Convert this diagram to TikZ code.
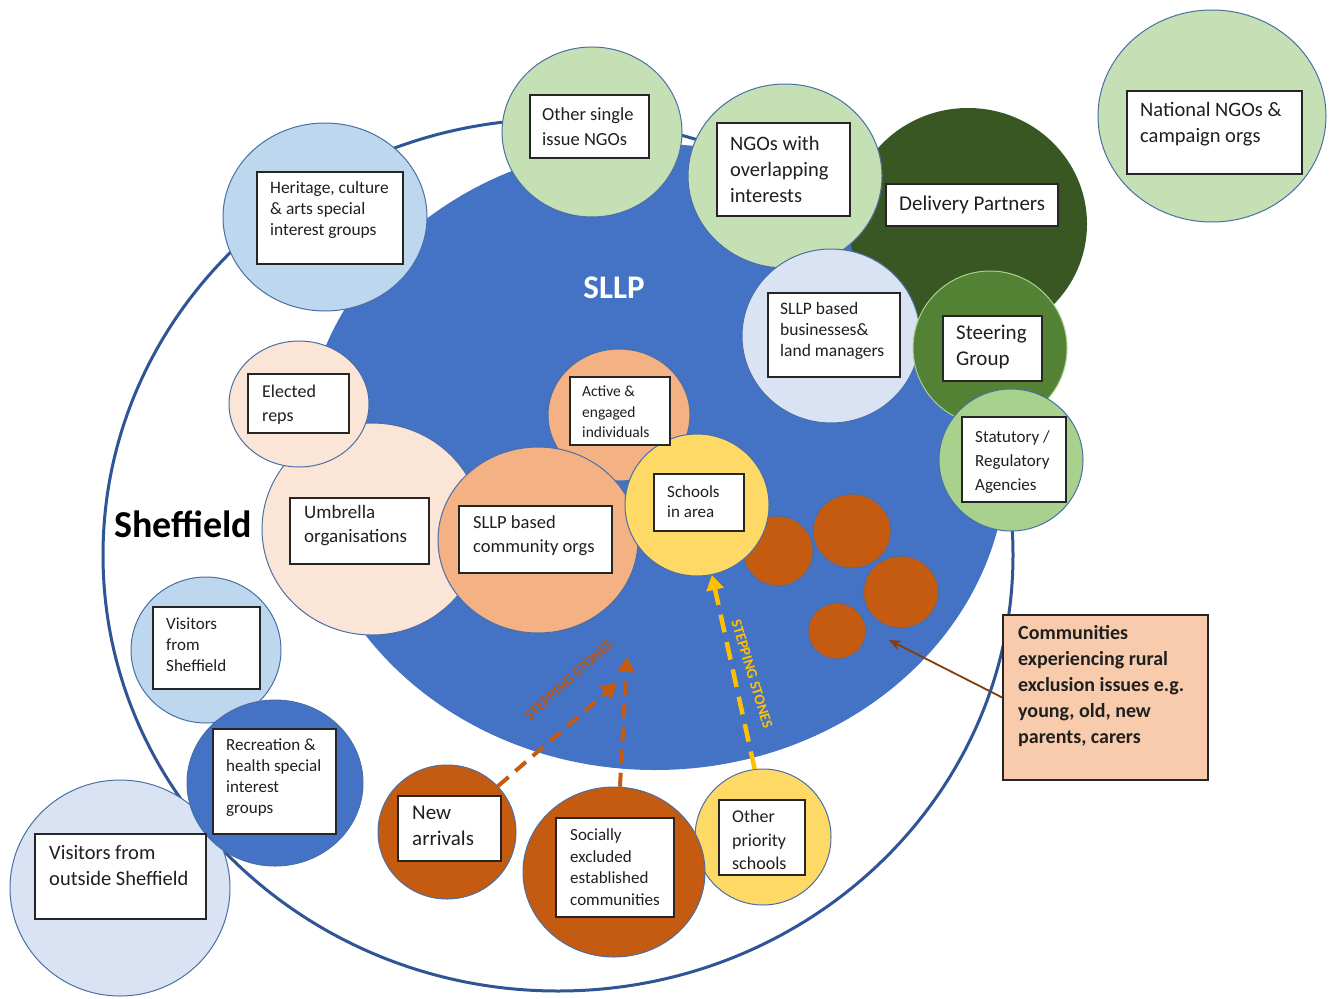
\documentclass[tikz,border=0pt]{standalone}
\usepackage{fontspec}
\setmainfont{Carlito}
\usetikzlibrary{shapes.geometric,arrows.meta,fit}
\definecolor{sllpblue}{HTML}{4472C4}
\definecolor{outerblue}{HTML}{2F5597}
\definecolor{cline}{HTML}{4A6FA5}
\definecolor{ltblue}{HTML}{BDD7EE}
\definecolor{paleblue}{HTML}{DAE3F3}
\definecolor{ltgreen}{HTML}{C5E0B4}
\definecolor{dkgreen}{HTML}{385723}
\definecolor{mdgreen}{HTML}{548235}
\definecolor{sgreen}{HTML}{A9D18E}
\definecolor{palepeach}{HTML}{FBE5D6}
\definecolor{peach}{HTML}{F4B183}
\definecolor{yell}{HTML}{FFD966}
\definecolor{orng}{HTML}{C55A11}
\definecolor{stonetxt}{HTML}{B4561C}
\definecolor{commfill}{HTML}{F8CBAD}
\definecolor{yarr}{HTML}{FFC000}
\definecolor{brarr}{HTML}{843C0C}
\definecolor{boxline}{HTML}{262626}
\definecolor{txtcol}{HTML}{1F1F1F}
\newcommand\fsz[2]{\fontsize{#1}{#2}\selectfont}
\begin{document}
\begin{tikzpicture}[x=1pt,y=-1pt,
  circ/.style={ellipse, draw=cline, line width=1pt, inner sep=0pt},
  boxs/.style={draw=boxline, line width=1.6pt, fill=white, inner sep=0pt},
  txt/.style={anchor=west, align=left, inner sep=0pt, text=txtcol},
  oarrow/.style={draw=orng, line width=4pt, dash pattern=on 14pt off 9pt, -{Triangle[length=15pt,width=17pt]}},
  yarrow/.style={draw=yarr, line width=4.5pt, dash pattern=on 18pt off 10pt, -{Triangle[length=15pt,width=17pt]}},
  brarrow/.style={draw=brarr, line width=1.8pt, -{Stealth[length=12pt,width=10pt]}},
  stones/.style={font=\fsz{15}{18}\bfseries, inner sep=0pt}
]
\path[use as bounding box, fill=white] (0,0) rectangle (1332,998);

% outer Sheffield ring
\node[ellipse, draw=outerblue, line width=3pt, inner sep=0pt, minimum width=910pt, minimum height=872pt] (sheff) at (558,555) {};
% SLLP area
\node[ellipse, fill=sllpblue, inner sep=0pt, minimum width=704pt, minimum height=626pt] (sllp) at (655,457) {};

% circles
\node[ellipse, fill=dkgreen, inner sep=0pt, minimum width=238pt, minimum height=232pt] (deliv) at (968,224) {};
\node[circ, fill=ltblue, minimum width=204pt, minimum height=188pt] (herit) at (325,217) {};
\node[circ, fill=ltgreen, minimum width=180pt, minimum height=170pt] (othngo) at (592,132) {};
\node[circ, fill=ltgreen, minimum width=194pt, minimum height=184pt] (ngoov) at (785,176) {};
\node[circ, fill=paleblue, minimum width=178pt, minimum height=174pt] (busi) at (831,336) {};
\node[circ, draw=sgreen, fill=mdgreen, minimum width=154pt, minimum height=154pt] (steer) at (990,348) {};
\node[circ, fill=sgreen, minimum width=144pt, minimum height=142pt] (stat) at (1011,460) {};
\node[circ, fill=ltgreen, minimum width=228pt, minimum height=212pt] (natl) at (1212,116) {};
\node[circ, fill=palepeach, minimum width=220pt, minimum height=212pt] (umbr) at (372,529) {};
\node[circ, fill=palepeach, minimum width=140pt, minimum height=126pt] (elect) at (299,404) {};
\node[circ, fill=peach, minimum width=142pt, minimum height=132pt] (active) at (619,415) {};
\node[circ, fill=peach, minimum width=200pt, minimum height=186pt] (comm) at (538,540) {};
\node[circ, fill=orng, minimum width=70pt, minimum height=70pt] (dota) at (778,551) {};
\node[circ, fill=orng, minimum width=78pt, minimum height=74pt] (dotb) at (852,531) {};
\node[circ, fill=orng, minimum width=75pt, minimum height=72pt] (dotc) at (901,592) {};
\node[circ, fill=orng, minimum width=58pt, minimum height=56pt] (dotd) at (837,631) {};
\node[circ, fill=yell, minimum width=144pt, minimum height=142pt] (school) at (697,505) {};
\node[circ, fill=ltblue, minimum width=150pt, minimum height=146pt] (vsheff) at (206,650) {};
\node[circ, fill=paleblue, minimum width=220pt, minimum height=216pt] (vout) at (120,888) {};
\node[circ, fill=sllpblue, minimum width=176pt, minimum height=166pt] (recr) at (275,783) {};
\node[circ, fill=orng, minimum width=138pt, minimum height=134pt] (newarr) at (447,832) {};
\node[circ, fill=yell, minimum width=136pt, minimum height=136pt] (othp) at (763,837) {};
\node[circ, fill=orng, minimum width=182pt, minimum height=170pt] (socex) at (614,872) {};

% stepping stones arrows
\coordinate (oa1) at (617,683);
\coordinate (oa2) at (627,657);
\draw[oarrow] (newarr.42) -- (oa1);
\draw[oarrow] (socex.86) -- (oa2);
\draw[yarrow] (othp.97) -- (school.-78);
\node[stones, text=stonetxt, rotate=41.8] (ssl) at (569,680) {STEPPING STONES};
\node[stones, text=yarr, rotate=-73.3] (ssr) at (752,674) {STEPPING STONES};

% boxes
\node[boxs, fit={(257,172) (403,264)}] (bherit) {};
\node[txt, font=\fsz{17.4}{21}] (therit) at (270,210) {Heritage, culture\\ \& arts special\\ interest groups};
\node[boxs, fit={(530,95) (649,158)}] (bothngo) {};
\node[txt, font=\fsz{18.5}{25}] (tothngo) at (542,127) {Other single\\ issue NGOs};
\node[boxs, fit={(717,123) (850,216)}] (bngoov) {};
\node[txt, font=\fsz{20.5}{26}] (tngoov) at (730,169) {NGOs with\\ overlapping\\ interests};
\node[boxs, fit={(886,184) (1058,226)}] (bdeliv) {};
\node[txt, font=\fsz{21}{26}] (tdeliv) at (899,205) {Delivery Partners};
\node[boxs, fit={(768,293) (900,377)}] (bbusi) {};
\node[txt, font=\fsz{17.5}{21}] (tbusi) at (780,331) {SLLP based\\ businesses\&\\ land managers};
\node[boxs, fit={(943,316) (1042,381)}] (bsteer) {};
\node[txt, font=\fsz{21}{26}] (tsteer) at (956,347) {Steering\\ Group};
\node[boxs, fit={(962,417) (1066,502)}] (bstat) {};
\node[txt, font=\fsz{17}{24}] (tstat) at (975,462) {Statutory /\\ Regulatory\\ Agencies};
\node[boxs, fit={(1127,91) (1302,174)}] (bnatl) {};
\node[txt, font=\fsz{20.5}{26}] (tnatl) at (1140,124) {National NGOs \&\\ campaign orgs};
\node[boxs, fit={(248,374) (349,433)}] (belect) {};
\node[txt, font=\fsz{18}{24}] (telect) at (262,405) {Elected\\ reps};
\node[boxs, fit={(290,498) (429,564)}] (bumbr) {};
\node[txt, font=\fsz{19}{24}] (tumbr) at (304,526) {Umbrella\\ organisations};
\node[boxs, fit={(459,506) (612,573)}] (bcomm) {};
\node[txt, font=\fsz{18.5}{24}] (tcomm) at (473,536) {SLLP based\\ community orgs};
\node[boxs, fit={(570,377) (670,445)}] (bactive) {};
\node[txt, font=\fsz{15.5}{20.5}] (tactive) at (582,412) {Active \&\\ engaged\\ individuals};
\node[boxs, fit={(654,474) (744,531)}] (bschool) {};
\node[txt, font=\fsz{17}{20}] (tschool) at (667,502) {Schools\\ in area};
\node[boxs, fit={(153,607) (260,689)}] (bvsheff) {};
\node[txt, font=\fsz{17}{21}] (tvsheff) at (166,645) {Visitors\\ from\\ Sheffield};
\node[boxs, fit={(213,729) (336,834)}] (brecr) {};
\node[txt, font=\fsz{17}{21}] (trecr) at (226,778) {Recreation \&\\ health special\\ interest\\ groups};
\node[boxs, fit={(35,834) (206,919)}] (bvout) {};
\node[txt, font=\fsz{20.5}{26}] (tvout) at (49,866) {Visitors from\\ outside Sheffield};
\node[boxs, fit={(398,796) (501,861)}] (bnewarr) {};
\node[txt, font=\fsz{21}{26}] (tnewarr) at (412,826) {New\\ arrivals};
\node[boxs, fit={(556,818) (674,917)}] (bsocex) {};
\node[txt, font=\fsz{17}{21.5}] (tsocex) at (570,867) {Socially\\ excluded\\ established\\ communities};
\node[boxs, fit={(719,800) (805,875)}] (bothp) {};
\node[txt, font=\fsz{18}{23.5}] (tothp) at (732,840) {Other\\ priority\\ schools};

% titles
\node[font=\fsz{33}{36}\bfseries, text=white, inner sep=0pt] (tsllp) at (614,288) {SLLP};
\node[font=\fsz{38}{40}\bfseries, text=black, inner sep=0pt] (tsheff) at (183,524) {Sheffield};

% communities box and arrow
\node[boxs, fill=commfill, fit={(1003,615) (1208,780)}] (bcommx) {};
\node[txt, font=\fsz{20}{26}\bfseries] (tcommx) at (1018,686) {Communities\\ experiencing rural\\ exclusion issues e.g.\\ young, old, new\\ parents, carers};
\coordinate (cm) at (889,640);
\draw[brarrow] (bcommx.west) -- (cm);
\end{tikzpicture}
\end{document}
